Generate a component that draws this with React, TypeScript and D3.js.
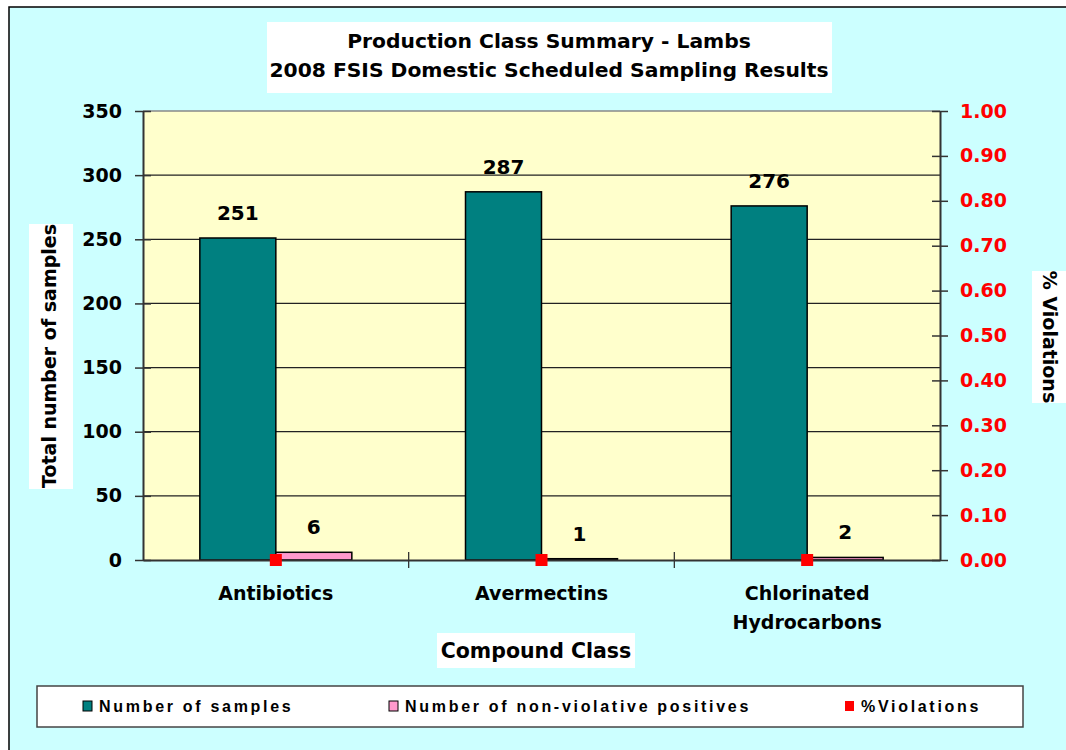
import React, { useRef, useEffect } from 'react';
import * as d3 from 'd3';

// chart data
const categories = ['Antibiotics', 'Avermectins', 'Chlorinated Hydrocarbons'];
const categoryLines = [['Antibiotics'], ['Avermectins'], ['Chlorinated', 'Hydrocarbons']];
const numberOfSamples = [251, 287, 276];
const nonViolativePositives = [6, 1, 2];
const pctViolations = [0, 0, 0];
const leftTicks = [0, 50, 100, 150, 200, 250, 300, 350];
const rightTicks = [0, 0.1, 0.2, 0.3, 0.4, 0.5, 0.6, 0.7, 0.8, 0.9, 1.0];

const TEAL = '#008080';
const PINK = '#FF99CC';
const RED = '#FF0000';
const FONT = 'DejaVu Sans, Verdana, sans-serif';
const LEGEND_FONT = 'Liberation Sans, Arial, sans-serif';

const App = () => {
  const svgRef = useRef<SVGSVGElement>(null);

  useEffect(() => {
    const width = 1066;
    const height = 750;
    const m = { left: 143, right: 940, top: 111, bottom: 560 };

    const svg = d3.select(svgRef.current).attr('width', width).attr('height', height);
    svg.selectAll('*').remove();

    // chart background
    svg.append('rect').attr('x', 0).attr('y', 0).attr('width', width).attr('height', height).attr('fill', '#fff');
    svg.append('rect')
      .attr('x', 9).attr('y', 7).attr('width', width + 10).attr('height', height + 10)
      .attr('fill', '#CCFFFF').attr('stroke', '#000').attr('stroke-width', 1.5);

    const x0 = d3.scaleBand().domain(categories).range([m.left, m.right]).paddingInner(0).paddingOuter(0);
    const x1 = d3.scaleBand().domain(['samples', 'positives']).range([0, 152]);
    const y = d3.scaleLinear().domain([0, 350]).range([m.bottom, m.top]);
    const y2 = d3.scaleLinear().domain([0, 1]).range([m.bottom, m.top]);

    // plot area
    svg.append('rect')
      .attr('x', m.left).attr('y', m.top).attr('width', m.right - m.left).attr('height', m.bottom - m.top)
      .attr('fill', '#FFFFCC');

    // gridlines
    svg.append('g').selectAll('line').data(leftTicks.filter(d => d > 0)).enter().append('line')
      .attr('x1', m.left).attr('x2', m.right)
      .attr('y1', d => y(d)).attr('y2', d => y(d))
      .attr('stroke', d => (d === 350 ? '#888' : '#222')).attr('stroke-width', 1.3);

    // bars
    const groups = svg.append('g').selectAll('g').data(categories).enter().append('g')
      .attr('transform', d => `translate(${x0(d)! + x0.bandwidth() / 2 - 76},0)`);

    groups.append('rect')
      .attr('x', x1('samples')!).attr('width', x1.bandwidth())
      .attr('y', (d, i) => y(numberOfSamples[i]))
      .attr('height', (d, i) => y(0) - y(numberOfSamples[i]))
      .attr('fill', TEAL).attr('stroke', '#000').attr('stroke-width', 1.5);

    groups.append('rect')
      .attr('x', x1('positives')!).attr('width', x1.bandwidth())
      .attr('y', (d, i) => y(nonViolativePositives[i]))
      .attr('height', (d, i) => y(0) - y(nonViolativePositives[i]))
      .attr('fill', PINK).attr('stroke', '#000').attr('stroke-width', 1.5);

    groups.append('text')
      .attr('x', x1('samples')! + x1.bandwidth() / 2)
      .attr('y', (d, i) => y(numberOfSamples[i]) - 18)
      .attr('text-anchor', 'middle').attr('font-family', FONT).attr('font-weight', 'bold').attr('font-size', 20)
      .text((d, i) => numberOfSamples[i]);

    groups.append('text')
      .attr('x', x1('positives')! + x1.bandwidth() / 2)
      .attr('y', (d, i) => y(nonViolativePositives[i]) - 18)
      .attr('text-anchor', 'middle').attr('font-family', FONT).attr('font-weight', 'bold').attr('font-size', 20)
      .text((d, i) => nonViolativePositives[i]);

    // axes
    const leftAxis = svg.append('g').attr('transform', `translate(${m.left},0)`)
      .call(d3.axisLeft(y).tickValues(leftTicks).tickSize(8).tickSizeOuter(0).tickPadding(13));
    leftAxis.select('.domain').attr('stroke', '#333').attr('stroke-width', 2);
    leftAxis.selectAll('.tick line').attr('x1', 8).attr('x2', -8).attr('stroke', '#333').attr('stroke-width', 1.5);
    leftAxis.selectAll('.tick text')
      .attr('font-family', FONT).attr('font-weight', 'bold').attr('font-size', 19).attr('fill', '#000');

    const rightAxis = svg.append('g').attr('transform', `translate(${m.right},0)`)
      .call(d3.axisRight(y2).tickValues(rightTicks).tickFormat(d3.format('.2f')).tickSize(8).tickSizeOuter(0).tickPadding(12));
    rightAxis.select('.domain').attr('stroke', '#333').attr('stroke-width', 2);
    rightAxis.selectAll('.tick line').attr('x1', -8).attr('x2', 8).attr('stroke', '#333').attr('stroke-width', 1.5);
    rightAxis.selectAll('.tick text')
      .attr('font-family', FONT).attr('font-weight', 'bold').attr('font-size', 19).attr('fill', RED);

    const bottomAxis = svg.append('g').attr('transform', `translate(0,${m.bottom})`)
      .call(d3.axisBottom(x0).tickSize(0).tickFormat(() => ''));
    bottomAxis.select('.domain').attr('stroke', '#333').attr('stroke-width', 2);
    // category separator ticks
    svg.append('g').selectAll('line').data(categories.slice(1)).enter().append('line')
      .attr('x1', d => x0(d)!).attr('x2', d => x0(d)!)
      .attr('y1', m.bottom - 8).attr('y2', m.bottom + 8)
      .attr('stroke', '#333').attr('stroke-width', 1.3);

    // category labels
    const catLabels = svg.append('g').selectAll('text').data(categories).enter().append('text')
      .attr('x', d => x0(d)! + x0.bandwidth() / 2)
      .attr('y', 600)
      .attr('text-anchor', 'middle').attr('font-family', FONT).attr('font-weight', 'bold').attr('font-size', 19);
    catLabels.each(function (d, i) {
      const t = d3.select(this);
      categoryLines[i].forEach((line, j) => {
        t.append('tspan').attr('x', x0(d)! + x0.bandwidth() / 2).attr('dy', j === 0 ? 0 : 29).text(line);
      });
    });

    // % violations markers
    svg.append('g').selectAll('rect').data(categories).enter().append('rect')
      .attr('x', d => x0(d)! + x0.bandwidth() / 2 - 6)
      .attr('y', (d, i) => y2(pctViolations[i]) - 6)
      .attr('width', 12).attr('height', 12)
      .attr('fill', RED);

    // title
    svg.append('rect').attr('x', 267).attr('y', 22).attr('width', 565).attr('height', 71).attr('fill', '#fff');
    svg.append('text').attr('x', 549).attr('y', 48).attr('text-anchor', 'middle')
      .attr('font-family', FONT).attr('font-weight', 'bold').attr('font-size', 20.3)
      .text('Production Class Summary - Lambs');
    svg.append('text').attr('x', 549).attr('y', 77).attr('text-anchor', 'middle')
      .attr('font-family', FONT).attr('font-weight', 'bold').attr('font-size', 20.3)
      .text('2008 FSIS Domestic Scheduled Sampling Results');

    // axis titles
    svg.append('rect').attr('x', 29).attr('y', 224).attr('width', 44).attr('height', 265).attr('fill', '#fff');
    svg.append('text').attr('transform', 'translate(56,356) rotate(-90)').attr('text-anchor', 'middle')
      .attr('font-family', FONT).attr('font-weight', 'bold').attr('font-size', 19)
      .text('Total number of samples');

    svg.append('rect').attr('x', 1032).attr('y', 271).attr('width', 40).attr('height', 132).attr('fill', '#fff');
    svg.append('text').attr('transform', 'translate(1043,337) rotate(90)').attr('text-anchor', 'middle')
      .attr('font-family', FONT).attr('font-weight', 'bold').attr('font-size', 19)
      .text('% Violations');

    svg.append('rect').attr('x', 437).attr('y', 633).attr('width', 198).attr('height', 35).attr('fill', '#fff');
    svg.append('text').attr('x', 536).attr('y', 658).attr('text-anchor', 'middle')
      .attr('font-family', FONT).attr('font-weight', 'bold').attr('font-size', 20.5)
      .text('Compound Class');

    // legend
    svg.append('rect').attr('x', 37).attr('y', 686).attr('width', 986).attr('height', 41)
      .attr('fill', '#fff').attr('stroke', '#444').attr('stroke-width', 1.5);
    const legendItems = [
      { label: 'Number of samples', color: TEAL, x: 83, border: true },
      { label: 'Number of non-violative positives', color: PINK, x: 389, border: true },
      { label: '%Violations', color: RED, x: 845, border: false },
    ];
    const lg = svg.append('g').selectAll('g').data(legendItems).enter().append('g');
    lg.append('rect')
      .attr('x', d => d.x).attr('y', 701).attr('width', 9).attr('height', 10)
      .attr('fill', d => d.color).attr('stroke', d => (d.border ? '#000' : 'none')).attr('stroke-width', 1);
    lg.append('text')
      .attr('x', d => d.x + 16).attr('y', 712)
      .attr('font-family', LEGEND_FONT).attr('font-weight', 'bold').attr('font-size', 16).attr('letter-spacing', 2.7)
      .text(d => d.label);
  }, []);

  return <svg ref={svgRef} style={{ position: 'absolute', left: 0, top: 0, display: 'block' }}></svg>;
};

export default App;
